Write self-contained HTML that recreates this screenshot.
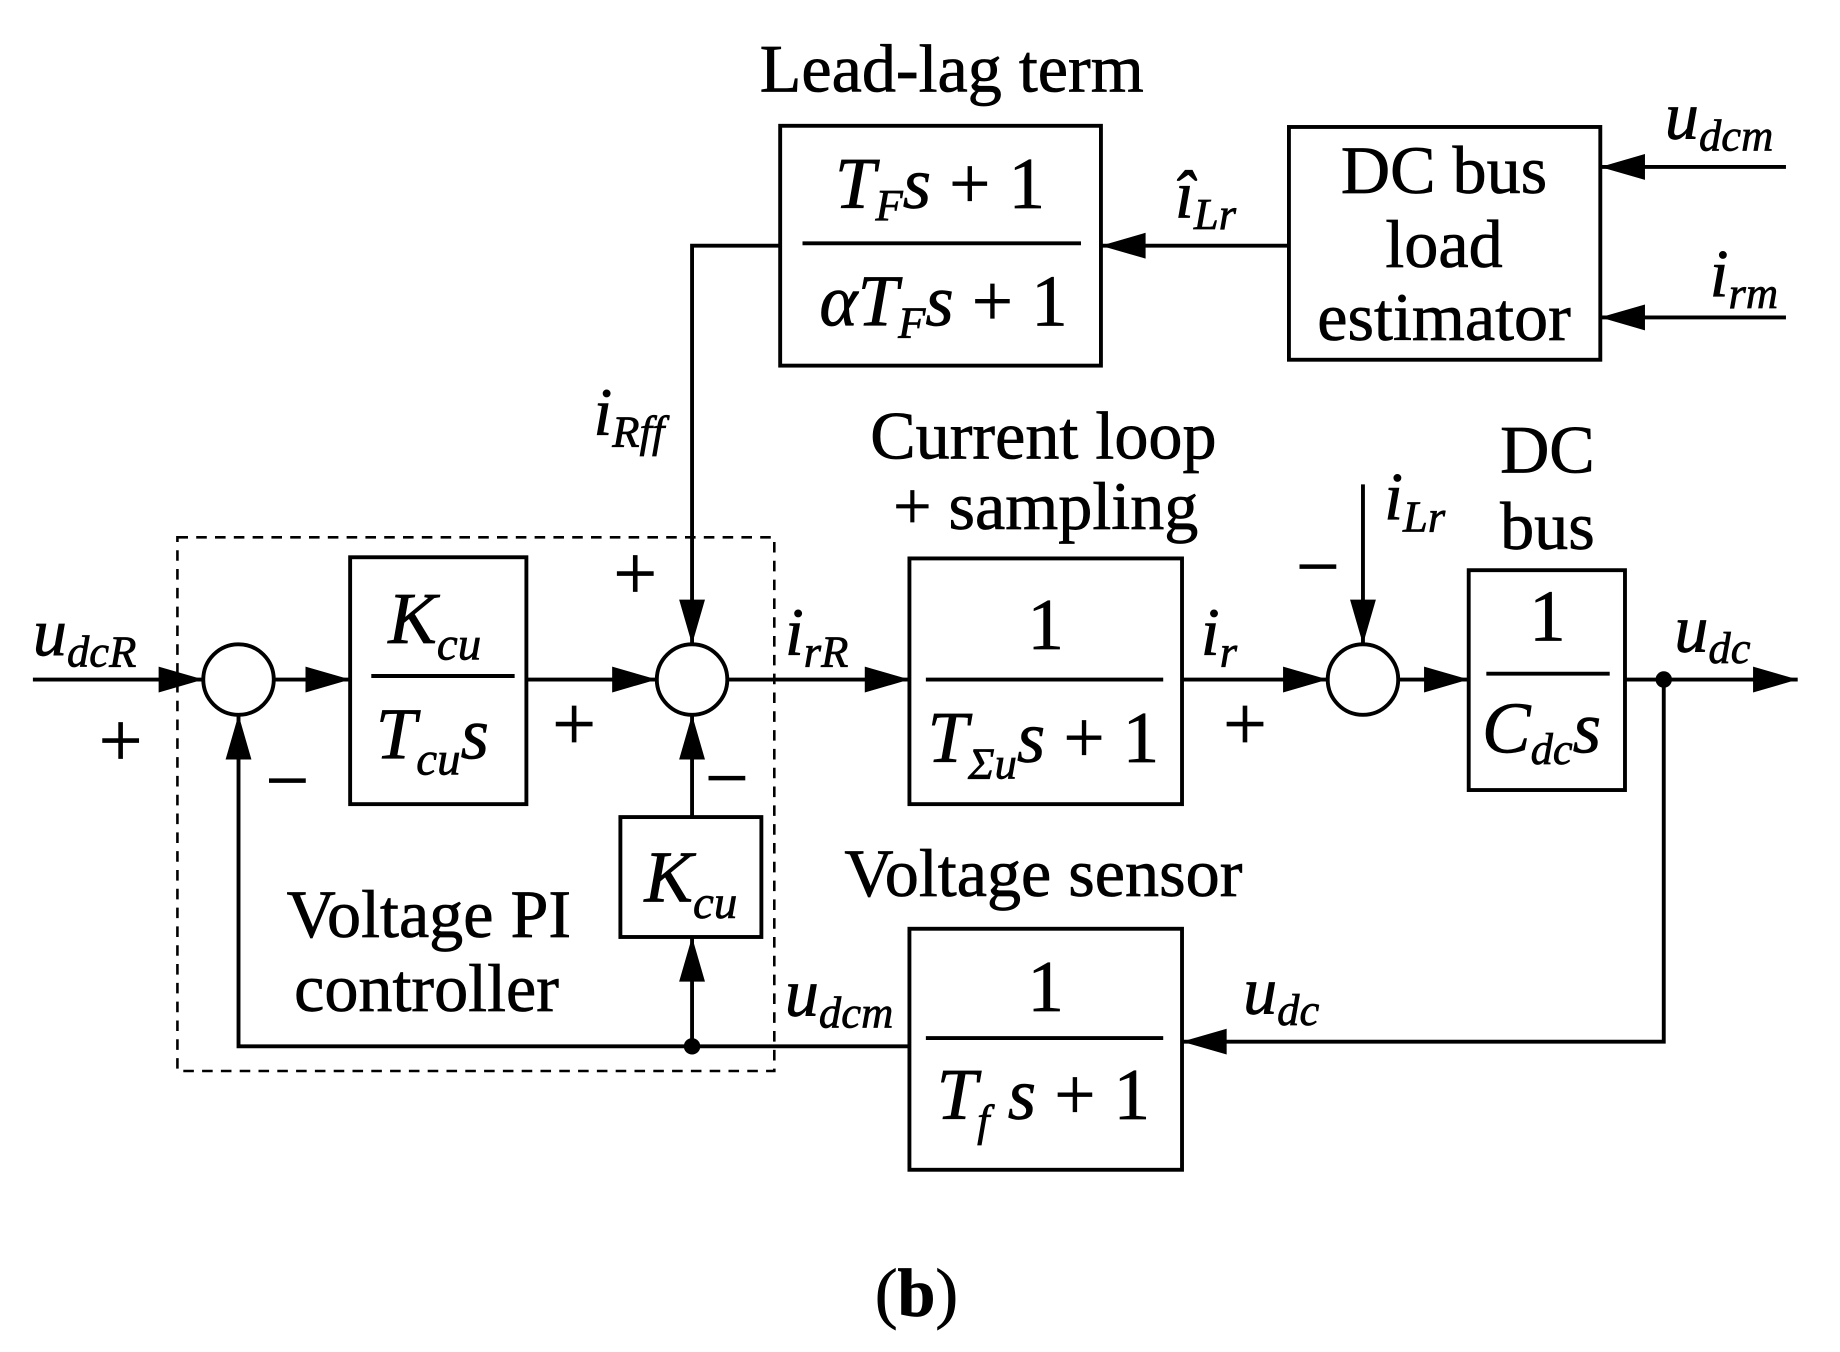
<!DOCTYPE html>
<html><head><meta charset="utf-8"><style>
html,body{margin:0;padding:0;background:#fff;}
svg{display:block;}
text{font-family:"Liberation Serif",serif;fill:#000;stroke:#000;stroke-width:0.6;}
.i{font-style:italic;}
</style></head><body>
<svg width="1840" height="1352" viewBox="0 0 1566 1150" preserveAspectRatio="none" xmlns="http://www.w3.org/2000/svg">
<g stroke="#000" stroke-width="3.3" fill="none">
<rect x="664" y="107" width="273" height="204"/>
<rect x="1097" y="108" width="265" height="198"/>
<rect x="298" y="474" width="150" height="210"/>
<rect x="528" y="695" width="120" height="102"/>
<rect x="774" y="475" width="232" height="209"/>
<rect x="1250" y="485" width="133" height="187"/>
<rect x="774" y="790" width="232" height="205"/>
<rect x="151" y="457" width="508" height="454" stroke-dasharray="9,7" stroke-width="2.2"/>
<line x1="683" y1="207" x2="920" y2="207"/>
<line x1="316" y1="575" x2="438" y2="575"/>
<line x1="788" y1="578" x2="990" y2="578"/>
<line x1="1265" y1="573" x2="1370" y2="573"/>
<line x1="788" y1="883" x2="990" y2="883"/>
<circle cx="203" cy="578" r="30"/>
<circle cx="589" cy="578" r="30"/>
<circle cx="1160" cy="578" r="30"/>
<line x1="1520" y1="142" x2="1362" y2="142"/>
<line x1="1520" y1="270" x2="1362" y2="270"/>
<line x1="1097" y1="209" x2="937" y2="209"/>
<polyline points="664,209 589,209 589,548"/>
<line x1="28" y1="578" x2="173" y2="578"/>
<line x1="233" y1="578" x2="298" y2="578"/>
<line x1="448" y1="578" x2="559" y2="578"/>
<line x1="589" y1="695" x2="589" y2="608"/>
<line x1="589" y1="890" x2="589" y2="797"/>
<polyline points="775,890 203,890 203,608"/>
<line x1="619" y1="578" x2="774" y2="578"/>
<line x1="1006" y1="578" x2="1130" y2="578"/>
<line x1="1160" y1="412" x2="1160" y2="548"/>
<line x1="1190" y1="578" x2="1250" y2="578"/>
<line x1="1383" y1="578" x2="1530" y2="578"/>
<polyline points="1416,578 1416,886 1006,886"/>
</g>
<g fill="#000">
<polygon points="1362,142 1400,131 1400,153"/>
<polygon points="1362,270 1400,259 1400,281"/>
<polygon points="937,209 975,198 975,220"/>
<polygon points="589,548 578,510 600,510"/>
<polygon points="173,578 135,567 135,589"/>
<polygon points="298,578 260,567 260,589"/>
<polygon points="559,578 521,567 521,589"/>
<polygon points="589,608 578,646 600,646"/>
<polygon points="589,797 578,835 600,835"/>
<polygon points="203,608 192,646 214,646"/>
<polygon points="774,578 736,567 736,589"/>
<polygon points="1130,578 1092,567 1092,589"/>
<polygon points="1160,548 1149,510 1171,510"/>
<polygon points="1250,578 1212,567 1212,589"/>
<polygon points="1530,578 1492,567 1492,589"/>
<polygon points="1006,886 1044,875 1044,897"/>
<circle cx="1416" cy="578" r="7"/>
<circle cx="589" cy="890" r="7"/>
</g>
<g font-size="58">
<text x="810" y="78" text-anchor="middle">Lead-lag term</text>
<text x="800" y="177" text-anchor="middle" font-size="62"><tspan class="i">T</tspan><tspan class="i" font-size="38" dy="10">F</tspan><tspan class="i" dy="-10">s</tspan> + 1</text>
<text x="803" y="277" text-anchor="middle" font-size="62"><tspan class="i">αT</tspan><tspan class="i" font-size="38" dy="10">F</tspan><tspan class="i" dy="-10">s</tspan> + 1</text>
<text x="1229" y="164" text-anchor="middle">DC bus</text>
<text x="1229" y="227" text-anchor="middle">load</text>
<text x="1229" y="289" text-anchor="middle">estimator</text>
<text x="1417" y="118" class="i">u<tspan font-size="38" dy="10">dcm</tspan></text>
<text x="1455" y="252" class="i">i<tspan font-size="38" dy="10">rm</tspan></text>
<text x="1000" y="185" class="i">î<tspan font-size="38" dy="10">Lr</tspan></text>
<text x="505" y="370" class="i">i<tspan font-size="38" dy="10">Rff</tspan></text>
<text x="522" y="510" font-size="66">+</text>
<text x="28" y="557" class="i">u<tspan font-size="38" dy="10">dcR</tspan></text>
<text x="84" y="652" font-size="66">+</text>
<text x="370" y="547" text-anchor="middle" class="i" font-size="62">K<tspan font-size="40" dy="14">cu</tspan></text>
<text x="368" y="645" text-anchor="middle" class="i" font-size="62">T<tspan font-size="40" dy="14">cu</tspan><tspan dy="-14">s</tspan></text>
<text x="470" y="638" font-size="66">+</text>
<text x="226" y="686" font-size="66">−</text>
<text x="600" y="684" font-size="66">−</text>
<text x="588" y="767" text-anchor="middle" class="i" font-size="62">K<tspan font-size="40" dy="14">cu</tspan></text>
<text x="365" y="797" text-anchor="middle">Voltage PI</text>
<text x="363" y="860" text-anchor="middle">controller</text>
<text x="668" y="557" class="i">i<tspan font-size="38" dy="10">rR</tspan></text>
<text x="888" y="390" text-anchor="middle">Current loop</text>
<text x="890" y="450" text-anchor="middle">+ sampling</text>
<text x="890" y="552" text-anchor="middle" font-size="62">1</text>
<text x="888" y="648" text-anchor="middle" class="i" font-size="62">T<tspan font-size="38" dy="14">Σu</tspan><tspan dy="-14">s</tspan><tspan font-style="normal"> + 1</tspan></text>
<text x="1022" y="557" class="i">i<tspan font-size="38" dy="10">r</tspan></text>
<text x="1041" y="638" font-size="66">+</text>
<text x="1178" y="442" class="i">i<tspan font-size="38" dy="10">Lr</tspan></text>
<text x="1103" y="504" font-size="66">−</text>
<text x="1317" y="402" text-anchor="middle">DC</text>
<text x="1317" y="467" text-anchor="middle">bus</text>
<text x="1317" y="545" text-anchor="middle" font-size="62">1</text>
<text x="1312" y="640" text-anchor="middle" class="i" font-size="62">C<tspan font-size="38" dy="10">dc</tspan><tspan dy="-10">s</tspan></text>
<text x="1425" y="554" class="i">u<tspan font-size="38" dy="10">dc</tspan></text>
<text x="888" y="762" text-anchor="middle">Voltage sensor</text>
<text x="890" y="860" text-anchor="middle" font-size="62">1</text>
<text x="888" y="952" text-anchor="middle" class="i" font-size="62">T<tspan font-size="38" dy="14">f</tspan><tspan dy="-14"> s</tspan><tspan font-style="normal"> + 1</tspan></text>
<text x="1058" y="862" class="i">u<tspan font-size="38" dy="10">dc</tspan></text>
<text x="668" y="864" class="i">u<tspan font-size="38" dy="10">dcm</tspan></text>
<text x="780" y="1119" text-anchor="middle">(<tspan font-weight="bold">b</tspan>)</text>
</g>
</svg>
</body></html>
